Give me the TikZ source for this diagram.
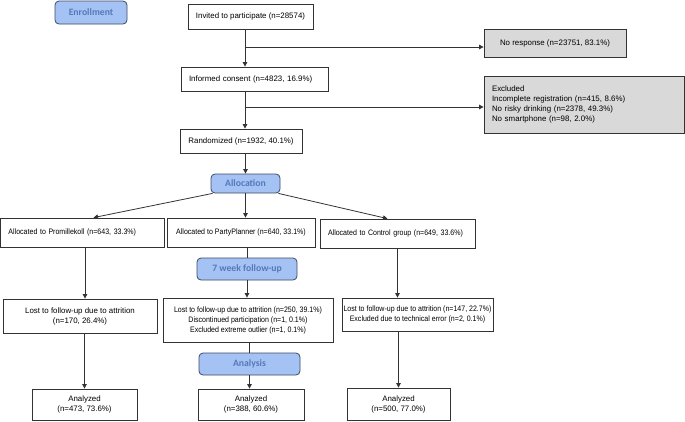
\documentclass[tikz,border=0pt]{standalone}
\usepackage{fontspec}
\setmainfont{Liberation Sans}
\newfontfamily\narrowfont[FakeStretch=0.89]{Liberation Sans}
\newfontfamily\secfont{Carlito}
\usetikzlibrary{arrows.meta}
\definecolor{secfill}{HTML}{A4C2F4}
\definecolor{secdraw}{HTML}{3C4A66}
\definecolor{sectext}{HTML}{5578B8}
\definecolor{graybox}{HTML}{D9D9D9}
\definecolor{linec}{HTML}{333333}
\begin{document}
\begin{tikzpicture}[x=1pt,y=-1pt,
  box/.style={draw=linec, line width=0.8pt, fill=white, inner sep=0pt, align=center, font=\fontsize{7.9}{10}\selectfont},
  nbox/.style={box, font=\fontsize{7.9}{10}\narrowfont},
  gbox/.style={box, fill=graybox},
  sec/.style={draw=secdraw, fill=secfill, line width=0.8pt, rounded corners=4pt, inner sep=0pt, font=\fontsize{9.7}{11}\secfont\bfseries, text=sectext},
  arr/.style={draw=linec, line width=0.8pt, -{Triangle[length=4.5pt,width=4.5pt]}},
  ln/.style={draw=linec, line width=0.8pt}]
\useasboundingbox (0,0) rectangle (685,421);
\node[sec, minimum width=72, minimum height=23] (enr) at (91,12.5) {Enrollment};
\node[box, minimum width=125, minimum height=25] (inv) at (250.5,16.5) {Invited to participate (n=28574)};
\node[gbox, minimum width=142, minimum height=28] (nores) at (555,43) {No response (n=23751, 83.1\%)};
\node[box, minimum height=24, text width=131, inner xsep=8, align=left] (cons) at (254.5,79) {Informed consent (n=4823, 16.9\%)};
\node[gbox, minimum height=57, text width=184, inner xsep=8, align=left] (excl) at (584,104.5) {Excluded\\Incomplete registration (n=415, 8.6\%)\\No risky drinking (n=2378, 49.3\%)\\No smartphone (n=98, 2.0\%)};
\node[box, minimum width=122, minimum height=24] (rand) at (241,141) {Randomized (n=1932, 40.1\%)};
\node[sec, minimum width=69, minimum height=19] (alloc) at (245.5,183.5) {Allocation};
\node[nbox, minimum height=29, text width=148, inner xsep=8, align=left] (pro) at (82.5,232.5) {Allocated to Promillekoll (n=643, 33.3\%)};
\node[nbox, minimum width=148, minimum height=29] (pp) at (241,232.5) {Allocated to PartyPlanner (n=640, 33.1\%)};
\node[nbox, minimum height=29, text width=139, inner xsep=8, align=left] (ctl) at (397.5,233.5) {Allocated to Control group (n=649, 33.6\%)};
\node[sec, minimum width=100, minimum height=22] (fu) at (247,269) {7 week follow-up};
\node[box, minimum width=154, minimum height=34] (lostp) at (80,316) {Lost to follow-up due to attrition\\(n=170, 26.4\%)};
\node[nbox, minimum width=170, minimum height=44] (lostpp) at (248,320) {Lost to follow-up due to attrition (n=250, 39.1\%)\\Discontinued participation (n=1, 0.1\%)\\Excluded extreme outlier (n=1, 0.1\%)};
\node[nbox, minimum width=151, minimum height=33] (lostc) at (417.5,314.5) {Lost to follow-up due to attrition (n=147, 22.7\%)\\Excluded due to technical error (n=2, 0.1\%)};
\node[sec, minimum width=101, minimum height=22] (anal) at (249.5,364) {Analysis};
\node[box, minimum width=105, minimum height=31] (anp) at (84.5,404.5) {Analyzed\\(n=473, 73.6\%)};
\node[box, minimum width=106, minimum height=31] (anpp) at (251,404.5) {Analyzed\\(n=388, 60.6\%)};
\node[box, minimum width=103, minimum height=32] (anc) at (398.5,404) {Analyzed\\(n=500, 77.0\%)};
\coordinate (b1) at (245,47);
\coordinate (b2) at (245,107);
\draw[arr] (inv.south -| b1) -- (cons.north -| b1);
\draw[arr] (b1) -- (b1 -| nores.west);
\draw[arr] (cons.south -| b2) -- (rand.north -| b2);
\draw[arr] (b2) -- (b2 -| excl.west);
\draw[arr] (rand.south -| alloc) -- (alloc.north);
\draw[arr] ([xshift=2pt]alloc.south west) -- ([xshift=11pt]pro.north);
\draw[arr] (alloc.south) -- (alloc.south |- pp.north);
\draw[arr] ([xshift=-2pt]alloc.south east) -- ([xshift=-10pt]ctl.north);
\draw[arr] ([xshift=2.5pt]pro.south) -- ([xshift=2.5pt]pro.south |- lostp.north);
\draw[arr] (lostp.south -| anp.north) -- (anp.north);
\draw[ln] (fu.north |- pp.south) -- (fu.north);
\draw[arr] (fu.south) -- (fu.south |- lostpp.north);
\draw[ln] (anal.north |- lostpp.south) -- (anal.north);
\draw[arr] (anal.south) -- (anal.south |- anpp.north);
\draw[arr] (ctl.south) -- (ctl.south |- lostc.north);
\draw[arr] (lostc.south -| anc.north) -- (anc.north);
\end{tikzpicture}
\end{document}
